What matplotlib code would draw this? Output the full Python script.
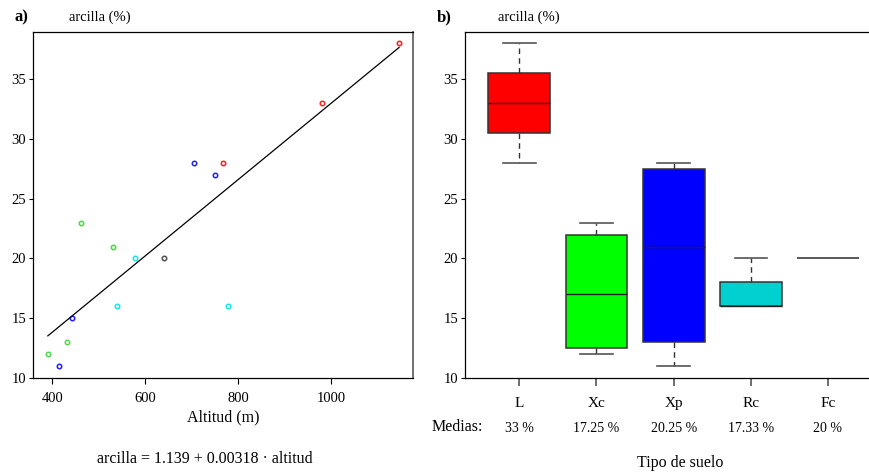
import numpy as np
import matplotlib
matplotlib.use("Agg")
from matplotlib import pyplot as plt

plt.rcParams['font.family'] = ['Liberation Serif', 'DejaVu Serif']

# muestras: altitud (m), arcilla (%), tipo de suelo
altitud = [1147, 980, 768, 706, 750, 462, 531, 577, 640, 540, 778, 441, 432, 390, 414]
arcilla = [38, 33, 28, 28, 27, 23, 21, 20, 20, 16, 16, 15, 13, 12, 11]
tipo = ["L", "L", "L", "Xp", "Xp", "Xc", "Xc", "Rc", "Fc", "Rc", "Rc", "Xp", "Xc", "Xc", "Xp"]

suelos = ["L", "Xc", "Xp", "Rc", "Fc"]
puntoColor = {"L": "#ff2020", "Xc": "#50d850", "Xp": "#2020ff", "Rc": "#10e8e8", "Fc": "#505050"}
cajaColor = {"L": "#ff0000", "Xc": "#00ff00", "Xp": "#0000ff", "Rc": "#00d0d0", "Fc": "#000000"}
yTicks = [10, 15, 20, 25, 30, 35]
xTicks = [400, 600, 800, 1000]


def fivenum(v):
    v = np.sort(np.asarray(v, dtype=float))
    n = len(v)
    n4 = np.floor((n + 3) / 2) / 2
    d = np.array([1, n4, (n + 1) / 2, n + 1 - n4, n])
    lo = v[np.floor(d).astype(int) - 1]
    hi = v[np.ceil(d).astype(int) - 1]
    return 0.5 * (lo + hi)


fig = plt.figure(figsize=(8.7, 4.74), dpi=100)
W, H = 870, 474

# ---- a) dispersion ----
ax1 = fig.add_axes([33 / W, 1 - 378 / H, 380 / W, (378 - 31.7) / H])
for s in suelos:
    xs = [a for a, t in zip(altitud, tipo) if t == s]
    ys = [c for c, t in zip(arcilla, tipo) if t == s]
    ax1.plot(xs, ys, 'o', ms=3.2, mfc='none', mec=puntoColor[s], mew=1.1)
b, a = np.polyfit(altitud, arcilla, 1)
xr = np.array([min(altitud), max(altitud)])
ax1.plot(xr, a + b * xr, color='black', lw=0.9)
ax1.set_xlim(358, 1177)
ax1.set_ylim(10, 38.97)
ax1.set_xticks(xTicks)
ax1.set_yticks(yTicks)
ax1.tick_params(labelsize=10.5, length=3, width=0.8, pad=2)
ax1.tick_params(axis='x', length=4, pad=6)
for sp in ax1.spines.values():
    sp.set_linewidth(0.9)
ax1.spines['right'].set_color('#666666')
ax1.spines['right'].set_linewidth(1.3)
ax1.set_xlabel("Altitud (m)", fontsize=11.5, labelpad=3)
fig.text(15 / W, 1 - 17 / H, "a)", fontsize=12, fontweight='bold', va='center')
fig.text(69 / W, 1 - 17 / H, "arcilla (%)", fontsize=10.5, va='center')
fig.text(205 / W, 1 - 459 / H, "arcilla = 1.139 + 0.00318 · altitud", fontsize=11.5,
         ha='center', va='center')

# ---- b) cajas ----
ax2 = fig.add_axes([465 / W, 1 - 378 / H, (882 - 465) / W, (378 - 31.7) / H])
stats = []
for s in suelos:
    v = [c for c, t in zip(arcilla, tipo) if t == s]
    f = fivenum(v)
    stats.append(dict(whislo=f[0], q1=f[1], med=f[2], q3=f[3], whishi=f[4], fliers=[], label=s))
bp = ax2.bxp(stats, positions=range(1, 6), widths=0.8, patch_artist=True,
             showfliers=False,
             boxprops=dict(edgecolor='#333333', linewidth=1.1),
             medianprops=dict(color='#222222', linewidth=1.0),
             whiskerprops=dict(color='#333333', linestyle=(0, (4, 3)), linewidth=1.0),
             capprops=dict(color='#555555', linewidth=1.2), capwidths=0.42)
for patch, s in zip(bp['boxes'], suelos):
    patch.set_facecolor(cajaColor[s])
    if s == "Fc":
        patch.set_facecolor('none')
        patch.set_edgecolor('#555555')
for cap, k in zip(bp['caps'], range(10)):
    if suelos[k // 2] == "Fc":
        cap.set_visible(False)
bp['medians'][4].set_color('#555555')
bp['medians'][4].set_linewidth(1.2)

ax2.set_xlim(0.296, 5.7)
ax2.set_ylim(10, 38.97)
ax2.set_yticks(yTicks)
ax2.set_xticks(range(1, 6))
ax2.set_xticklabels(suelos)
ax2.spines['right'].set_visible(False)
ax2.tick_params(labelsize=10.5, length=3, width=0.8, pad=2)
ax2.tick_params(axis='x', length=6, width=1.2, color='#555555', pad=8, labelsize=11)
for sp in ax2.spines.values():
    sp.set_linewidth(0.9)

medias = [np.mean([c for c, t in zip(arcilla, tipo) if t == s]) for s in suelos]
for i, m in enumerate(medias):
    txt = ("%.2f" % m).rstrip('0').rstrip('.') + " %"
    ax2.text(i + 1, -0.146, txt, transform=ax2.get_xaxis_transform(), ha='center',
             va='center', fontsize=10)
fig.text(432 / W, 1 - 426.7 / H, "Medias:", fontsize=11.5, va='center')
fig.text(680 / W, 1 - 463 / H, "Tipo de suelo", fontsize=11.5, ha='center', va='center')
fig.text(437 / W, 1 - 17 / H, "b)", fontsize=12, fontweight='bold', va='center')
fig.text(498 / W, 1 - 17 / H, "arcilla (%)", fontsize=10.5, va='center')

fig.savefig("out.png", dpi=100)
